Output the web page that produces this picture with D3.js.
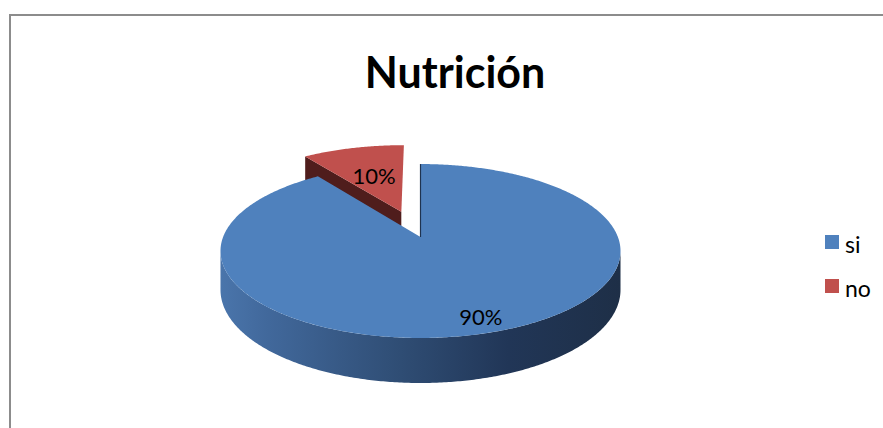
<!DOCTYPE html>
<html>
<head>
<meta charset="utf-8">
<script src="https://cdn.jsdelivr.net/npm/d3@7"></script>
<style>
  html, body { margin: 0; padding: 0; background: #fff; }
  svg { display: block; }
</style>
</head>
<body>
<svg id="chart" width="883" height="428"></svg>
<script>
// ---- data ----
const title = "Nutrición";
const categories = ["si", "no"];
const values = [90, 10];

// ---- styles ----
const topColors = d3.scaleOrdinal().domain(categories).range(["#4F81BD", "#C0504D"]);
const faceColors = d3.scaleOrdinal().domain(categories).range(["#1f3350", "#4f1d1c"]);
const FONT = "Lato, 'Open Sans', sans-serif";

const W = 883, H = 428;
const svg = d3.select("#chart");

// chart border
svg.append("path")
  .attr("d", `M10,${H + 2} V15 H${W + 2}`)
  .attr("fill", "none").attr("stroke", "#8c8c8c").attr("stroke-width", 2);

// title
svg.append("text")
  .attr("x", 455).attr("y", 88)
  .attr("text-anchor", "middle")
  .attr("font-family", FONT).attr("font-weight", "bold").attr("font-size", 43)
  .attr("fill", "#000")
  .text(title);

// ---- 3D pie projection (perspective on a tilted disc) ----
const CX = 420.5, Y0 = 237, A = 197.4, B = 84.7, K = 0.161, T = 37.8;
const EXPLODE = { "si": 0, "no": 0.33 };
function P(u, v, h) {
  const w = 1 - K * v;
  return [CX + A * u / w, Y0 + (B * v + h * T) / w];
}
const uv = (th, r) => [r * Math.sin(th), -r * Math.cos(th)];

const pie = d3.pie().sort(null).value(d => d.value);
const arcs = pie(categories.map((c, i) => ({ cat: c, value: values[i] })));
const total = d3.sum(values);
const fmt = d3.format(".0%");

// side gradient
const defs = svg.append("defs");
const grad = defs.append("linearGradient").attr("id", "sideBlue")
  .attr("gradientUnits", "userSpaceOnUse")
  .attr("x1", CX - 200).attr("x2", CX + 200).attr("y1", 0).attr("y2", 0);
[[0, "#4a75ab"], [0.12, "#41689b"], [0.45, "#2f4d74"], [0.72, "#213657"], [1, "#1e2f47"]]
  .forEach(([o, c]) => grad.append("stop").attr("offset", o).attr("stop-color", c));

const line = d3.line();
function arcPoints(a0, a1, ex, ev, h) {
  const n = Math.max(8, Math.ceil((a1 - a0) / 0.01));
  const pts = [];
  for (let i = 0; i <= n; i++) {
    const th = a0 + (a1 - a0) * i / n;
    const [u, v] = uv(th, 1);
    pts.push(P(u + ex, v + ev, h));
  }
  return pts;
}

// draw order: back slices first
const order = arcs.slice().sort((p, q) => {
  const mp = (p.startAngle + p.endAngle) / 2, mq = (q.startAngle + q.endAngle) / 2;
  return (-Math.cos(mp)) - (-Math.cos(mq));
});

order.forEach(d => {
  const cat = d.data.cat;
  const mid = (d.startAngle + d.endAngle) / 2;
  const e = EXPLODE[cat];
  const [ex, ev] = uv(mid, e);
  const g = svg.append("g");

  // radial faces facing the viewer
  [[d.startAngle, -1], [d.endAngle, 1]].forEach(([a, s]) => {
    const nv = s * Math.sin(a);
    if (nv > 0.05) {
      const [u, v] = uv(a, 1);
      const pts = [P(ex, ev, 0), P(u + ex, v + ev, 0), P(u + ex, v + ev, 1), P(ex, ev, 1)];
      g.append("path").attr("d", line(pts) + "Z").attr("fill", faceColors(cat));
    }
  });

  // outer curved side (front half)
  const vs = Math.acos(-K), ve = 2 * Math.PI - Math.acos(-K);
  const s0 = Math.max(d.startAngle, vs), s1 = Math.min(d.endAngle, ve);
  if (s1 > s0) {
    const topPts = arcPoints(s0, s1, ex, ev, 0);
    const botPts = arcPoints(s0, s1, ex, ev, 1).reverse();
    g.append("path").attr("d", line(topPts.concat(botPts)) + "Z")
      .attr("fill", cat === "si" ? "url(#sideBlue)" : faceColors(cat));
  }

  // top face
  const top = [P(ex, ev, 0)].concat(arcPoints(d.startAngle, d.endAngle, ex, ev, 0));
  g.append("path").attr("d", line(top) + "Z").attr("fill", topColors(cat));

  // thin edge where the cut meets the gap
  if (e === 0) {
    const [u, v] = uv(d.startAngle, 1);
    g.append("path").attr("d", line([P(0, 0, 0), P(u, v, 0)]))
      .attr("stroke", faceColors(cat)).attr("stroke-width", 1.2).attr("fill", "none");
  }
});

// data labels
const labelR = { "si": 0.86, "no": 0.53 };
arcs.forEach(d => {
  const cat = d.data.cat;
  const mid = (d.startAngle + d.endAngle) / 2;
  const [u, v] = uv(mid, labelR[cat] + EXPLODE[cat]);
  const [x, y] = P(u, v, 0);
  svg.append("text")
    .attr("x", x).attr("y", y)
    .attr("text-anchor", "middle").attr("dominant-baseline", "central")
    .attr("font-family", FONT).attr("font-size", 22).attr("fill", "#000")
    .text(fmt(d.data.value / total));
});

// legend
const legend = svg.append("g");
categories.forEach((c, i) => {
  const y = 235 + i * 44;
  legend.append("rect").attr("x", 825).attr("y", y).attr("width", 14).attr("height", 14)
    .attr("fill", topColors(c));
  legend.append("text").attr("x", 845).attr("y", y + 17.5)
    .attr("font-family", FONT).attr("font-size", 23).attr("fill", "#000")
    .text(c);
});
</script>
</body>
</html>
